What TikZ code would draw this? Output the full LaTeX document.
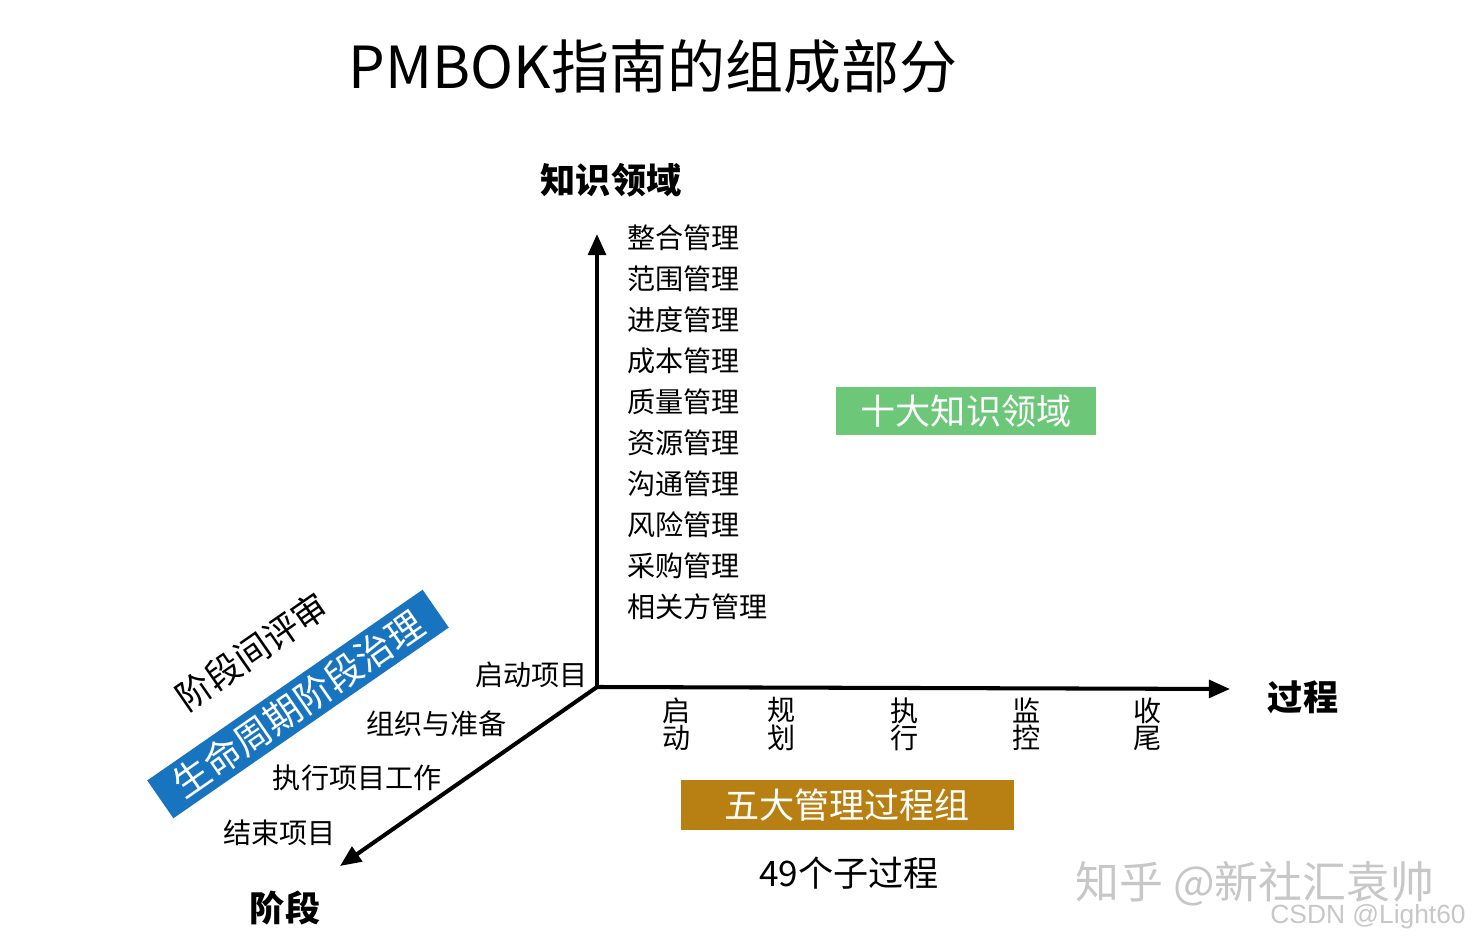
\documentclass[tikz,border=0pt]{standalone}
\usepackage{fontspec}
\setmainfont{Noto Sans CJK SC}
\newfontfamily\latinmark{Liberation Sans}
\usetikzlibrary{arrows.meta}
\definecolor{boxgreen}{RGB}{108,200,120}
\definecolor{boxgold}{RGB}{184,128,18}
\definecolor{bandblue}{RGB}{24,116,190}

\begin{document}
\begin{tikzpicture}[x=0.02cm,y=-0.02cm,
  axis/.style={line width=2.3pt,-{Triangle[length=12pt,width=10pt]}},
  item/.style={inner sep=0pt,font=\fontsize{16}{15.5}\selectfont},
  head/.style={inner sep=0pt,font=\fontsize{20}{20}\selectfont\bfseries},
  tag/.style={inner sep=0pt,text=white,font=\fontsize{20}{20}\selectfont},
  wmark/.style={inner sep=0pt,text=black!22,font=\fontsize{#1}{#1}\selectfont}]
\useasboundingbox (0,0) rectangle (1472,945);

\node[inner sep=0pt,font=\fontsize{33}{33}\selectfont] (title) at (653,67) {PMBOK指南的组成部分};

% axes
\coordinate (O) at (597,687);
\coordinate (up) at (597,234);
\coordinate (right) at (1230,689);
\coordinate (down) at (340,866);
\draw[axis] (O) -- (up);
\draw[axis] (O) -- (right);
\draw[axis] (O) -- (down);

\node[head] (ka) at (611,180) {知识领域};
\node[head] (proc) at (1303,697) {过程};
\node[head] (phase) at (285,908) {阶段};

% knowledge areas
\foreach \t [count=\i] in {整合管理,范围管理,进度管理,成本管理,质量管理,资源管理,沟通管理,风险管理,采购管理,相关方管理}
  \node[item,anchor=west] (k\i) at (627,{238+41*(\i-1)}) {\t};

% process groups
\foreach \x/\t [count=\i] in {677/启\\动,782/规\\划,905/执\\行,1027/监\\控,1148/收\\尾}
  \node[item,align=center] (g\i) at (\x,724) {\t};

% phases
\node[item,anchor=east] (p1) at (588,675) {启动项目};
\node[item,anchor=east] (p2) at (507,724) {组织与准备};
\node[item,anchor=east] (p3) at (442,778) {执行项目工作};
\node[item,anchor=east] (p4) at (336,833) {结束项目};

\node[tag,fill=boxgreen,minimum width=260*0.02cm,minimum height=48*0.02cm] (ten) at (966,411) {十大知识领域};
\node[tag,fill=boxgold,minimum width=333*0.02cm,minimum height=50*0.02cm] (five) at (847,805) {五大管理过程组};
\node[item,font=\fontsize{20}{20}\selectfont] (sub) at (849,873) {49个子过程};

\node[tag,fill=bandblue,rotate=34.7,font=\fontsize{21}{21}\selectfont,minimum width=335*0.02cm,minimum height=46*0.02cm] (life) at (298,704) {生命周期阶段治理};
\node[item,rotate=34.7,font=\fontsize{20}{20}\selectfont] (rev) at (252,651) {阶段间评审};

\node[wmark=25] (zh) at (1255,884) {知乎 @新社汇袁帅};
\node[wmark=15,font=\fontsize{15}{15}\latinmark,anchor=east] (cs) at (1466,917) {CSDN @Light60};
\end{tikzpicture}
\end{document}
